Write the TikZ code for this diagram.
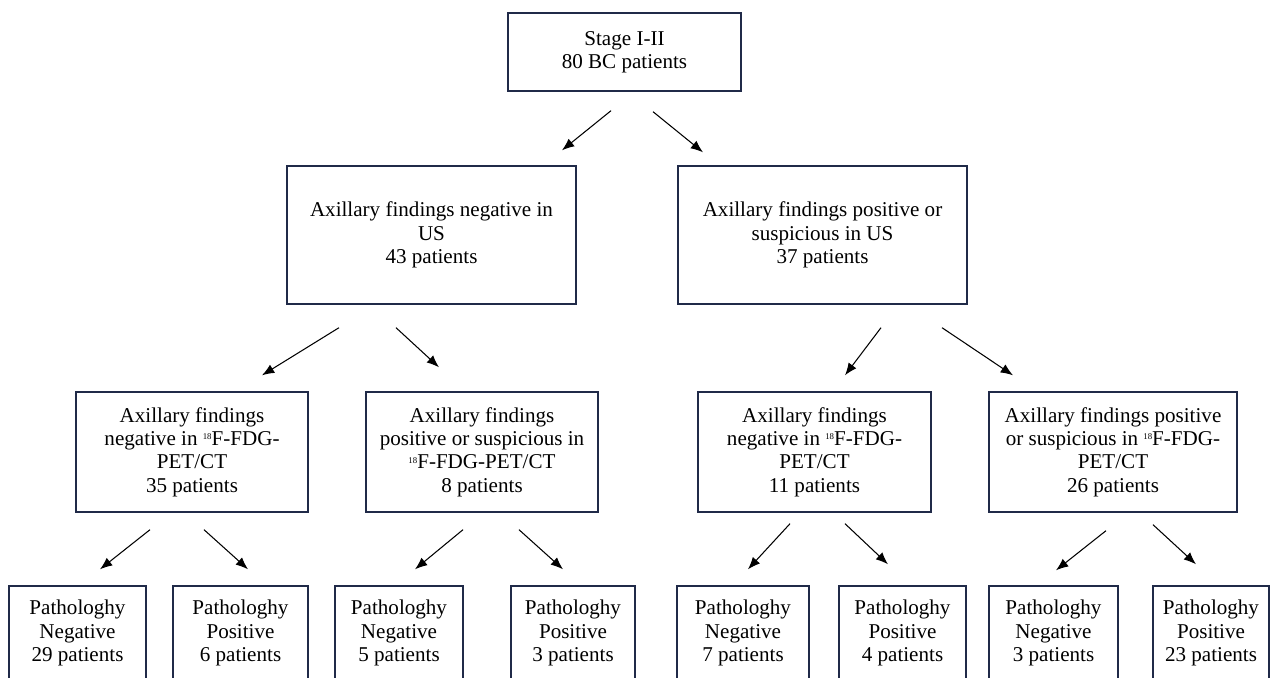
\documentclass[tikz,border=0pt]{standalone}
\usepackage{fontspec}
\setmainfont{Liberation Serif}
\usetikzlibrary{calc,arrows.meta}

\definecolor{boxline}{RGB}{32,42,72}
\newcommand{\isot}{\raisebox{0.6ex}{\fontsize{5}{5}\selectfont 18}}

\begin{document}
\begin{tikzpicture}[x = 0.02cm, y = -0.02cm,
	box/.style 2 args = {draw = boxline,
					 line width = 0.8pt,
					 align = center,
					 inner sep = 0pt,
					 minimum width = #1*0.02cm,
					 minimum height = #2*0.02cm,
					 font = \fontsize{12}{13.3}\selectfont},
	arr/.style = {-{Latex[length = 7pt, width = 5.5pt]},
				  line width = 0.6pt}]

	\useasboundingbox (0,0) rectangle (1272,678);

	% first split: ultrasound
	\draw (624.5,52) node[box = {233}{78}] (top) {Stage I-II\\80 BC patients};

	\draw (431.5,235) node[box = {289}{138}] (usneg)
		{Axillary findings negative in\\US\\43 patients};

	\draw (822.5,235) node[box = {289}{138}] (uspos)
		{Axillary findings positive or\\suspicious in US\\37 patients};

	% second split: PET/CT
	\draw (192,452) node[box = {232}{120}] (petnegL)
		{Axillary findings\\negative in \isot F-FDG-\\PET/CT\\35 patients};

	\draw (482,452) node[box = {232}{120}] (petposL)
		{Axillary findings\\positive or suspicious in\\\isot F-FDG-PET/CT\\8 patients};

	\draw (814.5,452) node[box = {233}{120}] (petnegR)
		{Axillary findings\\negative in \isot F-FDG-\\PET/CT\\11 patients};

	\draw (1113,452) node[box = {248}{120}] (petposR)
		{Axillary findings positive\\or suspicious in \isot F-FDG-\\PET/CT\\26 patients};

	% pathology
	\draw (77.5,633) node[box = {137}{94}] (pnA) {Pathologhy\\Negative\\29 patients};
	\draw (240.5,633) node[box = {135}{94}] (ppA) {Pathologhy\\Positive\\6 patients};
	\draw (399,633) node[box = {128}{94}] (pnB) {Pathologhy\\Negative\\5 patients};
	\draw (573,633) node[box = {124}{94}] (ppB) {Pathologhy\\Positive\\3 patients};
	\draw (743,633) node[box = {132}{94}] (pnC) {Pathologhy\\Negative\\7 patients};
	\draw (902.5,633) node[box = {127}{94}] (ppC) {Pathologhy\\Positive\\4 patients};
	\draw (1053.5,633) node[box = {129}{94}] (pnD) {Pathologhy\\Negative\\3 patients};
	\draw (1211,633) node[box = {116}{94}] (ppD) {Pathologhy\\Positive\\23 patients};

	% arrows
	\draw[arr] ($(top.south)+(-13.5,19)$) -- ($(usneg.north)+(130.5,-15)$);
	\draw[arr] ($(top.south)+(28.5,20)$) -- ($(uspos.north)+(-119.5,-13)$);

	\draw[arr] ($(usneg.south)+(-92.5,23)$) -- ($(petnegL.north)+(70,-16)$);
	\draw[arr] ($(usneg.south)+(-35.5,23)$) -- ($(petposL.north)+(-43,-24)$);
	\draw[arr] ($(uspos.south)+(58.5,23)$) -- ($(petnegR.north)+(30.5,-16)$);
	\draw[arr] ($(uspos.south)+(119.5,23)$) -- ($(petposR.north)+(-100,-16)$);

	\draw[arr] ($(petnegL.south)+(-42,17)$) -- ($(pnA.north)+(22.5,-16)$);
	\draw[arr] ($(petnegL.south)+(12,17)$) -- ($(ppA.north)+(7.5,-16)$);
	\draw[arr] ($(petposL.south)+(-19,17)$) -- ($(pnB.north)+(16,-16)$);
	\draw[arr] ($(petposL.south)+(37,17)$) -- ($(ppB.north)+(-10,-16)$);
	\draw[arr] ($(petnegR.south)+(-24.5,11)$) -- ($(pnC.north)+(5,-16)$);
	\draw[arr] ($(petnegR.south)+(30.5,11)$) -- ($(ppC.north)+(-14.5,-21)$);
	\draw[arr] ($(petposR.south)+(-7,18)$) -- ($(pnD.north)+(2.5,-15)$);
	\draw[arr] ($(petposR.south)+(40,12)$) -- ($(ppD.north)+(-15,-21)$);
\end{tikzpicture}
\end{document}
